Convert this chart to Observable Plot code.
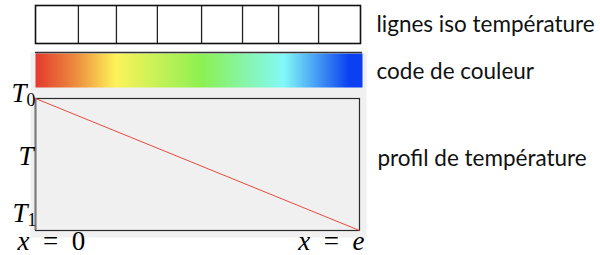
<!DOCTYPE html>
<html>
<head>
<meta charset="utf-8">
<script src="https://cdn.jsdelivr.net/npm/d3@7"></script>
<script src="https://cdn.jsdelivr.net/npm/@observablehq/plot@0.6"></script>
<style>
  html, body { margin: 0; padding: 0; background: #fff; }
  #chart { position: relative; width: 600px; height: 255px; overflow: hidden; }
  #chart svg { position: absolute; left: 0; top: 0; background: transparent; }
</style>
</head>
<body>
<div id="chart"></div>
<script>
// ---- data ----
// iso-temperature line positions across the wall thickness (0 = x=0, 1 = x=e)
const isoBoundaries = [0, 0.132, 0.249, 0.375, 0.511, 0.637, 0.748, 0.871, 1];
// colour code stops
const colorStops = [0, 0.12, 0.245, 0.51, 0.76, 0.96, 1];
const colorValues = ["#e33a2e", "#ec8a3e", "#fdf35a", "#8cf052", "#82f9f8", "#0a40f0", "#0a40f0"];
// temperature profile (linear from T0 at x=0 to T1 at x=e)
const profileX = [0, 1];
const profileT = [1, 0];
// axis labels
const tempTickValues = [1, 0.56, 0];
const tempTickLabels = ["T_0", "T", "T_1"];
const posTickValues = [0, 1];
const posTickLabels = ["x = 0", "x = e"];
// right-hand legend labels
const rowLabels = ["lignes iso température", "code de couleur", "profil de température"];

const W = 600, H = 255;
const labelFont = "Lato, 'Open Sans', sans-serif";
const labelSize = 22.5;
const mathFont = "'Liberation Serif', 'DejaVu Serif', serif";
const mathSize = 27;
const chart = document.getElementById("chart");

// 1) iso-temperature lines row
const isoPlot = Plot.plot({
  width: W, height: H,
  marginLeft: 35, marginRight: 240, marginTop: 5, marginBottom: 212,
  x: {domain: [0, 1], axis: null},
  y: {domain: [0, 1], axis: null},
  style: {background: "transparent", overflow: "visible"},
  marks: [
    Plot.ruleX(isoBoundaries.slice(1, -1), {stroke: "#222", strokeWidth: 1.3}),
    Plot.frame({stroke: "#111", strokeWidth: 1.6}),
    Plot.text([rowLabels[0]], {frameAnchor: "right", dx: 16, textAnchor: "start",
      fontSize: labelSize, fontFamily: labelFont, fill: "#111"})
  ]
});

// 2) gray background block
const bgPlot = Plot.plot({
  width: W, height: H,
  marginLeft: 30, marginRight: 234, marginTop: 52, marginBottom: 18,
  x: {domain: [0, 1], axis: null},
  y: {domain: [0, 1], axis: null},
  style: {background: "transparent"},
  marks: [Plot.frame({fill: "#f0f0f0", stroke: "none"})]
});

// 3) colour code bar
const colorPlot = Plot.plot({
  width: W, height: H,
  marginLeft: 35, marginRight: 238, marginTop: 53, marginBottom: 168,
  x: {domain: [0, 1], axis: null},
  y: {domain: [0, 1], axis: null},
  color: {type: "linear", domain: colorStops, range: colorValues, interpolate: "rgb"},
  style: {background: "transparent", overflow: "visible"},
  marks: [
    Plot.raster({x1: 0, x2: 1, y1: 0, y2: 1, width: 327, height: 1, fill: (x, y) => x, imageRendering: "auto"}),
    Plot.ruleY([1], {stroke: "#333", strokeWidth: 1.5, dy: -1}),
    Plot.text([rowLabels[1]], {frameAnchor: "right", dx: 14, dy: 1, textAnchor: "start",
      fontSize: labelSize, fontFamily: labelFont, fill: "#111"})
  ]
});

// 4) temperature profile panel
const profile = profileX.map((x, i) => ({x, T: profileT[i]}));
const mathText = (data, opts) => Plot.text(data, {fontSize: mathSize, fontFamily: mathFont,
  fill: "#000", lineAnchor: "middle", ...opts});
const profPlot = Plot.plot({
  width: W, height: H,
  marginLeft: 35, marginRight: 241, marginTop: 98, marginBottom: 25,
  x: {domain: [0, 1], axis: null},
  y: {domain: [0, 1], axis: null},
  style: {background: "transparent", overflow: "visible"},
  marks: [
    Plot.frame({stroke: "#2a2a2a", strokeWidth: 1.2}),
    Plot.ruleX([0], {stroke: "#7a7a7a", strokeWidth: 2}),
    Plot.line(profile, {x: "x", y: "T", stroke: "#ea4a40", strokeWidth: 1}),
    mathText([tempTickValues[0]], {x: 0, y: d => d, text: () => tempTickLabels[0],
      textAnchor: "end", dx: 0, dy: -5, className: "tlab0"}),
    mathText([tempTickValues[1]], {x: 0, y: d => d, text: () => tempTickLabels[1],
      textAnchor: "end", dx: -2, dy: 0, className: "tlab1"}),
    mathText([tempTickValues[2]], {x: 0, y: d => d, text: () => tempTickLabels[2],
      textAnchor: "end", dx: 1, dy: -17, className: "tlab2"}),
    mathText([posTickValues[0]], {x: d => d, text: () => posTickLabels[0], frameAnchor: "bottom",
      textAnchor: "start", dx: -18, dy: 11, className: "xlab0"}),
    mathText([posTickValues[1]], {x: d => d, text: () => posTickLabels[1], frameAnchor: "bottom",
      textAnchor: "end", dx: 5, dy: 11, className: "xlab1"}),
    Plot.text([rowLabels[2]], {y: tempTickValues[1], frameAnchor: "right", dx: 18, dy: 2, textAnchor: "start",
      fontSize: labelSize, fontFamily: labelFont, fill: "#111"})
  ]
});

chart.append(bgPlot, colorPlot, isoPlot, profPlot);

// typeset the math labels (italic variables, upright digits, subscripts)
tempTickLabels.forEach((raw, i) => {
  d3.select(profPlot).selectAll(".tlab" + i + " text").each(function() {
    const sel = d3.select(this);
    sel.text(null);
    const [name, sub] = raw.split("_");
    sel.append("tspan").attr("font-style", "italic").text(name);
    if (sub) sel.append("tspan").attr("font-size", "66%").attr("dy", "0.2em").text(sub);
  });
});
posTickLabels.forEach((raw, i) => {
  d3.select(profPlot).selectAll(".xlab" + i + " text").each(function() {
    const sel = d3.select(this);
    sel.text(null);
    const parts = raw.split(" ");          // ["x", "=", "0" | "e"]
    sel.append("tspan").attr("font-style", "italic").text(parts[0]);
    sel.append("tspan").text("\u2002" + parts[1] + "\u2002");
    sel.append("tspan").attr("font-style", /[a-z]/.test(parts[2]) ? "italic" : "normal").text(parts[2]);
  });
});
</script>
</body>
</html>
